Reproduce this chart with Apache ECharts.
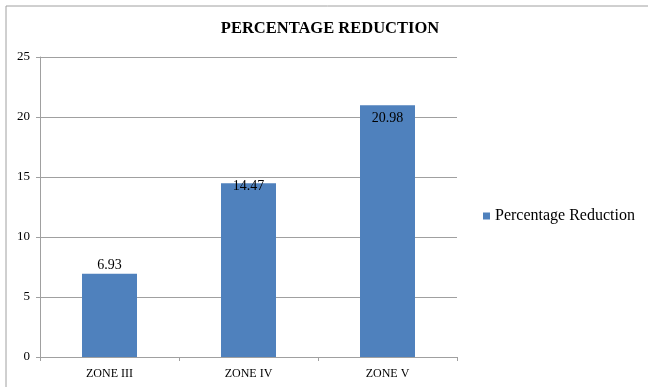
<!DOCTYPE html>
<html>
<head>
<meta charset="utf-8">
<style>html,body{margin:0;padding:0;background:#fff;}#c{width:648px;height:387px;}</style>
<script src="https://cdn.jsdelivr.net/npm/echarts@6/dist/echarts.min.js"></script>
</head>
<body>
<div id="c"></div>
<script>
const categories = ['ZONE III', 'ZONE IV', 'ZONE V'];
const seriesName = 'Percentage Reduction';
const values = [6.93, 14.47, 20.98];
const yTicks = [0, 5, 10, 15, 20, 25];

const labelOffsets = [[0, -2], [0, 10], [0, 20]];
const serif = '"Liberation Serif", "Times New Roman", serif';

const chart = echarts.init(document.getElementById('c'));
chart.setOption({
  animation: false,
  title: {
    text: 'PERCENTAGE REDUCTION',
    left: 330, top: 20, textAlign: 'center', padding: 0,
    textStyle: { fontFamily: serif, fontWeight: 'bold', fontSize: 16.5, color: '#000' }
  },
  graphic: [
    { type: 'rect', shape: { x: 6, y: 6, width: 700, height: 450 }, style: { fill: 'none', stroke: '#a0a0a0', lineWidth: 1 }, silent: true },
    { type: 'text', left: 392, top: -22, style: { text: 'g', font: '22px ' + serif, fill: '#000' } }
  ],
  legend: {
    left: 483, top: 208, padding: 0, icon: 'rect', itemWidth: 7, itemHeight: 7, itemGap: 5,
    textStyle: { fontFamily: serif, fontSize: 16, color: '#000', padding: [0, 0, 0, 0] },
    data: [seriesName]
  },
  grid: { left: 40, right: 191, top: 57, bottom: 30, containLabel: false },
  xAxis: {
    type: 'category', data: categories,
    axisLine: { lineStyle: { color: '#a0a0a0' } },
    axisTick: { show: true, length: 4, lineStyle: { color: '#a0a0a0' } },
    axisLabel: { fontFamily: serif, fontSize: 12, color: '#000', margin: 11 }
  },
  yAxis: {
    type: 'value', min: 0, max: 25, interval: 5,
    axisLine: { show: true, lineStyle: { color: '#a0a0a0' } },
    axisTick: { show: true, length: 4, lineStyle: { color: '#a0a0a0' } },
    splitLine: { lineStyle: { color: '#a0a0a0' } },
    axisLabel: { fontFamily: serif, fontSize: 13, color: '#000', margin: 10,
      formatter: v => yTicks.includes(v) ? String(v) : '' }
  },
  series: [{
    name: seriesName, type: 'bar', barWidth: 55,
    itemStyle: { color: '#4f81bd' },
    data: values.map((v, i) => ({ value: v, label: { offset: labelOffsets[i] } })),
    label: { show: true, position: 'top', distance: 0, fontFamily: serif, fontSize: 14, color: '#000' }
  }]
});
</script>
</body>
</html>
